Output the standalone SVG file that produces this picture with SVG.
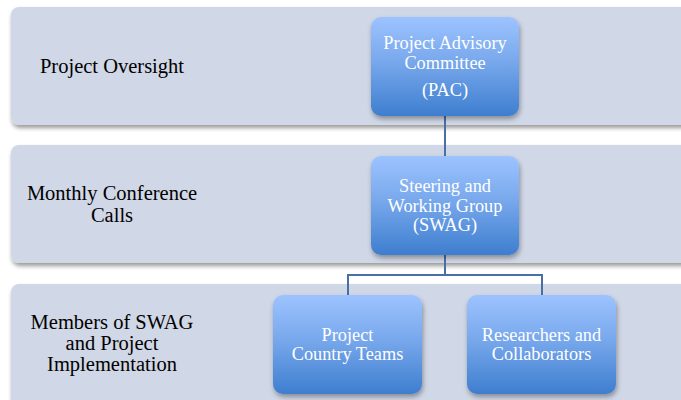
<svg xmlns="http://www.w3.org/2000/svg" width="681" height="400" viewBox="0 0 681 400">
<defs>
<linearGradient id="boxg" x1="0" y1="0" x2="0" y2="1">
<stop offset="0" stop-color="#9DC3FF"/>
<stop offset="0.45" stop-color="#78A8EC"/>
<stop offset="1" stop-color="#3E7ECF"/>
</linearGradient>
<filter id="bandsh" x="-5%" y="-10%" width="115%" height="130%">
<feDropShadow dx="1" dy="3" stdDeviation="2.2" flood-color="#000" flood-opacity="0.4"/>
</filter>
<filter id="boxsh" x="-10%" y="-10%" width="125%" height="130%">
<feDropShadow dx="1" dy="3" stdDeviation="2.5" flood-color="#000" flood-opacity="0.35"/>
</filter>
</defs>
<style>
.band{fill:#D0D7E6;filter:url(#bandsh)}
.box{fill:url(#boxg);filter:url(#boxsh)}
.lbl{font-family:"Liberation Serif","Times New Roman",serif;font-size:20.5px;fill:#000;text-anchor:middle}
.bt{font-family:"Liberation Serif","Times New Roman",serif;font-size:18.3px;fill:#fff;text-anchor:middle}
.conn{fill:none;stroke:#4A6FA5;stroke-width:2}
</style>
<rect width="681" height="400" fill="#fff"/>
<g id="band1"><rect class="band" x="11" y="7" width="690" height="118" rx="8"/><text class="lbl" x="112" y="73">Project Oversight</text></g>
<g id="band2"><rect class="band" x="11" y="145" width="690" height="118" rx="8"/><text class="lbl" x="112" y="200">Monthly Conference</text><text class="lbl" x="112" y="221.5">Calls</text></g>
<g id="band3"><rect class="band" x="11" y="284" width="690" height="140" rx="8"/><text class="lbl" x="112" y="329">Members of SWAG</text><text class="lbl" x="112" y="350">and Project</text><text class="lbl" x="112" y="371">Implementation</text></g>
<g id="connectors">
<path class="conn" d="M445 116V156"/>
<path class="conn" d="M445 255V275M348 295V275H542V295"/>
</g>
<g id="pac"><rect class="box" x="371" y="17" width="148" height="99" rx="10"/><text class="bt" x="445" y="49">Project Advisory</text><text class="bt" x="445" y="69">Committee</text><text class="bt" x="445" y="96">(PAC)</text></g>
<g id="swag"><rect class="box" x="371" y="156" width="148" height="99" rx="10"/><text class="bt" x="445" y="192">Steering and</text><text class="bt" x="445" y="211.5">Working Group</text><text class="bt" x="445" y="231">(SWAG)</text></g>
<g id="pct"><rect class="box" x="273" y="295" width="149" height="99" rx="10"/><text class="bt" x="347.5" y="341">Project</text><text class="bt" x="347.5" y="360">Country Teams</text></g>
<g id="rc"><rect class="box" x="467" y="295" width="149" height="99" rx="10"/><text class="bt" x="541.5" y="341">Researchers and</text><text class="bt" x="541.5" y="360">Collaborators</text></g>
</svg>
